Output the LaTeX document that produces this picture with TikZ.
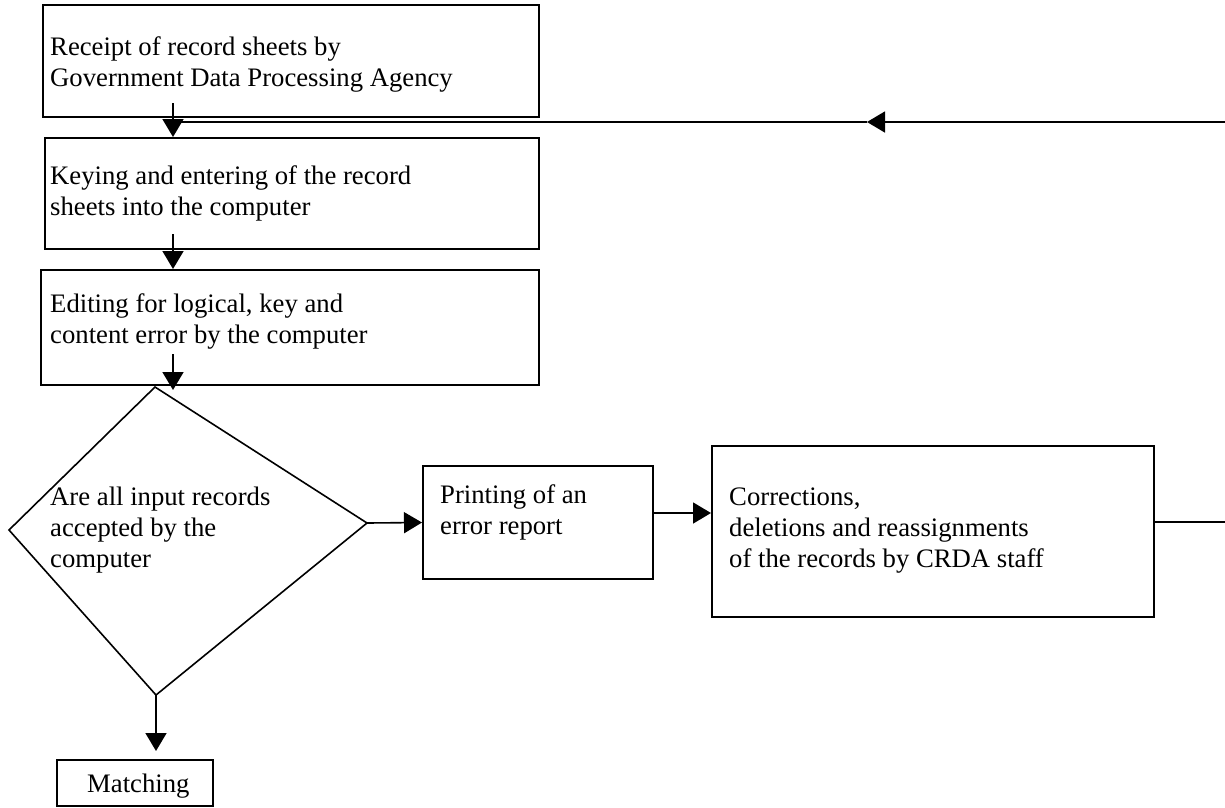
\documentclass[tikz,border=0pt]{standalone}
\usepackage{fontspec}
\setmainfont{Liberation Serif}
\usetikzlibrary{arrows.meta}
\newcommand\stk[1]{\vtop{\baselineskip=31pt #1}}
\begin{document}
\begin{tikzpicture}[x=1pt,y=-1pt,
  every node/.style={font=\fontsize{26.7}{31}\selectfont},
  boxnode/.style={draw,line width=2pt,inner sep=0pt,rectangle},
  txt/.style={anchor=base west,inner sep=0pt},
  ln/.style={line width=1.6pt},
  arr/.style={line width=1.6pt,-{Triangle[length=18pt,width=21pt]}}]
\useasboundingbox (0,0) rectangle (1225,807);
% boxes
\node[boxnode,minimum width=496pt,minimum height=112pt] (b1) at (291,61) {};
\node[boxnode,minimum width=494pt,minimum height=111pt] (b2) at (292,193.5) {};
\node[boxnode,minimum width=498pt,minimum height=115pt] (b3) at (290,327.5) {};
\node[boxnode,minimum width=230pt,minimum height=113pt] (pr) at (538,522.5) {};
\node[boxnode,minimum width=442pt,minimum height=171pt] (cr) at (933,531.5) {};
\node[boxnode,minimum width=156pt,minimum height=46pt] (m) at (135,783) {};
% diamond
\coordinate (dt) at (155,387);
\coordinate (dr) at (367,523);
\coordinate (db) at (156,695);
\coordinate (dl) at (9,530);
\draw[ln] (dt) -- (dr) -- (db) -- (dl) -- cycle;
% texts
\node[txt] (t1) at (50,55) {\stk{\hbox{Receipt of record sheets by}\hbox{Government Data Processing Agency}}};
\node[txt] (t2) at (50,184) {\stk{\hbox{Keying and entering of the record}\hbox{sheets into the computer}}};
\node[txt] (t3) at (50,312) {\stk{\hbox{Editing for logical, key and}\hbox{content error by the computer}}};
\node[txt] (td) at (50,505) {\stk{\hbox{Are all input records}\hbox{accepted by the}\hbox{computer}}};
\node[txt] (tp) at (440,503) {\stk{\hbox{Printing of an}\hbox{error report}}};
\node[txt] (tc) at (729,505) {\stk{\hbox{Corrections,}\hbox{deletions and reassignments}\hbox{of the records by CRDA staff}}};
\node[txt] (tm) at (87,792) {Matching};
% connectors
\draw[arr] ([xshift=-118pt,yshift=15pt]b1.south) -- ([xshift=-119pt]b2.north);
\draw[arr] ([xshift=-119pt,yshift=16pt]b2.south) -- ([xshift=-117pt]b3.north);
\draw[arr] ([xshift=-117pt,yshift=32pt]b3.south) -- ([xshift=18pt,yshift=-3pt]dt);
\draw[arr] (dr) -- (pr.west);
\draw[arr] ([yshift=9.5pt]pr.east) -- ([yshift=9.5pt]pr.east -| cr.west);
\draw[arr,shorten >=8pt] (db) -- (db |- m.north);
% feedback loop
\coordinate (fbr) at (1232,522);
\coordinate (fbt) at (1232,122);
\coordinate (fm) at (867,122);
\coordinate (jn) at (173,122);
\draw[ln] ([yshift=9.5pt]cr.east) -- (fbr) -- (fbt);
\draw[arr] (fbt) -- (fm);
\draw[ln] (fm) -- (jn);
\end{tikzpicture}
\end{document}
